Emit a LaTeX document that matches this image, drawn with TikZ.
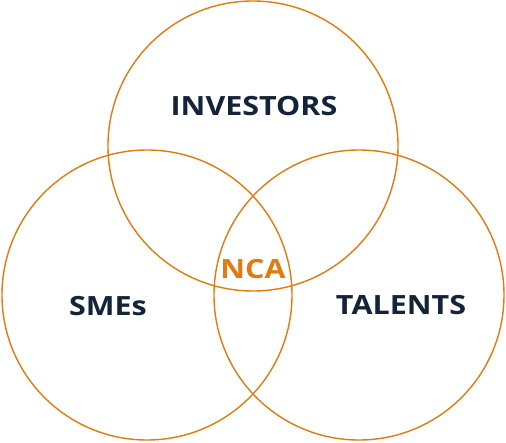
\documentclass[tikz,border=0pt]{standalone}
\usepackage{fontspec}
\setmainfont{Open Sans}[FakeStretch=1.15]
\definecolor{ring}{HTML}{E07B10}
\definecolor{navy}{HTML}{13243A}
\begin{document}
\begin{tikzpicture}[x=1pt,y=-1pt,
  ring/.style={draw=ring,line width=1.4pt},
  lbl/.style={font=\fontsize{26.5}{30}\selectfont\bfseries,text=navy,inner sep=0pt}]
\useasboundingbox (0,0) rectangle (506,442);
\draw[ring] (253,146) circle (145);
\draw[ring] (147,295) circle (145);
\draw[ring] (359,295) circle (145);
\node[lbl] (inv) at (254,106) {INVESTORS};
\node[lbl] (sme) at (108,306) {SMEs};
\node[lbl] (tal) at (401,305) {TALENTS};
\node[lbl,text=ring] (nca) at (253,269) {NCA};
\end{tikzpicture}
\end{document}
